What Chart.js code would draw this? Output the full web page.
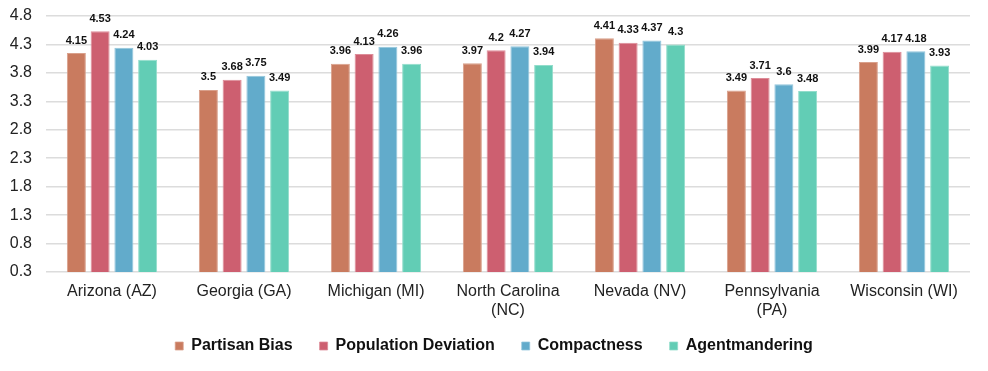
<!DOCTYPE html>
<html>
<head>
<meta charset="utf-8">
<script src="https://cdn.jsdelivr.net/npm/chart.js@4/dist/chart.umd.min.js"></script>
<style>
  body { margin: 0; background: #fff; }
  #wrap { width: 988px; height: 371px; }
</style>
</head>
<body>
<div id="wrap"><canvas id="c"></canvas></div>
<script>
const states = [
    'Arizona (AZ)', 'Georgia (GA)', 'Michigan (MI)', ['North Carolina', '(NC)'],
    'Nevada (NV)', ['Pennsylvania', '(PA)'], 'Wisconsin (WI)'
];
const partisanBias = [4.15, 3.5, 3.96, 3.97, 4.41, 3.49, 3.99];
const populationDeviation = [4.53, 3.68, 4.13, 4.2, 4.33, 3.71, 4.17];
const compactness = [4.24, 3.75, 4.26, 4.27, 4.37, 3.6, 4.18];
const agentmandering = [4.03, 3.49, 3.96, 3.94, 4.3, 3.48, 3.93];

const FONT = "'Liberation Sans', Arial, Helvetica, sans-serif";

const mkSet = (label, data, fill, edge) => ({
    label: label,
    data: data,
    yAxisID: 'y',
    backgroundColor: fill,
    borderColor: edge,
    borderWidth: {top: 1, left: 1, right: 1, bottom: 0},
    borderSkipped: 'bottom',
    categoryPercentage: 0.72,
    barPercentage: 0.8,
});

// value labels over each bar
const valueLabels = {
    id: 'valueLabels',
    afterLayout(chart) {
        // let the two-line category labels run below the x scale box
        chart.scales.x.bottom = chart.height;
    },
    afterDatasetsDraw(chart) {
        const ctx = chart.ctx;
        ctx.save();
        ctx.font = 'bold 11px ' + FONT;
        ctx.fillStyle = '#111';
        ctx.textAlign = 'center';
        ctx.textBaseline = 'bottom';
        chart.data.datasets.forEach((ds, i) => {
            chart.getDatasetMeta(i).data.forEach((bar, j) => {
                ctx.fillText(String(ds.data[j]), bar.x, bar.y - 7);
            });
        });
        ctx.restore();
    }
};

new Chart(document.getElementById('c'), {
    type: 'bar',
    data: {
        labels: states,
        datasets: [
            mkSet('Partisan Bias', partisanBias, '#C97B5F', '#D9A08B'),
            mkSet('Population Deviation', populationDeviation, '#CD5F70', '#DD8C98'),
            mkSet('Compactness', compactness, '#62ABCB', '#92C5DC'),
            mkSet('Agentmandering', agentmandering, '#62CDB5', '#92DDCB'),
        ]
    },
    options: {
        responsive: true,
        maintainAspectRatio: false,
        animation: false,
        layout: { padding: { left: 0, right: 0, top: 16, bottom: 7 } },
        plugins: {
            legend: {
                position: 'bottom',
                labels: {
                    boxWidth: 8,
                    boxHeight: 8,
                    padding: 27,
                    color: '#111',
                    font: { family: FONT, size: 16, weight: 'bold' },
                }
            },
            tooltip: { enabled: false },
        },
        scales: {
            x: {
                grid: { display: false },
                border: { display: false },
                ticks: {
                    color: '#222',
                    font: { family: FONT, size: 16, lineHeight: 1.18 },
                    maxRotation: 0,
                    autoSkip: false,
                    padding: 2,
                },
                afterFit: (scale) => { scale.height = 39; },
            },
            y: {
                min: 0.3,
                max: 4.8,
                border: { display: false },
                grid: { color: '#dcdcdc', lineWidth: 1.5, drawTicks: false },
                ticks: {
                    stepSize: 0.5,
                    color: '#222',
                    padding: 14,
                    font: { family: FONT, size: 16 },
                    callback: (v) => Number(v.toFixed(1)).toString(),
                },
                afterFit: (scale) => {
                    scale.width = 46;
                    scale.paddingTop = 0;
                    scale.paddingBottom = 0;
                },
            },
            // empty right margin so the legend centres on the full width
            gap: {
                position: 'right',
                min: 0,
                max: 1,
                border: { display: false },
                grid: { display: false },
                ticks: { display: false },
                afterFit: (scale) => { scale.width = 18; },
            }
        }
    },
    plugins: [valueLabels]
});
</script>
</body>
</html>
